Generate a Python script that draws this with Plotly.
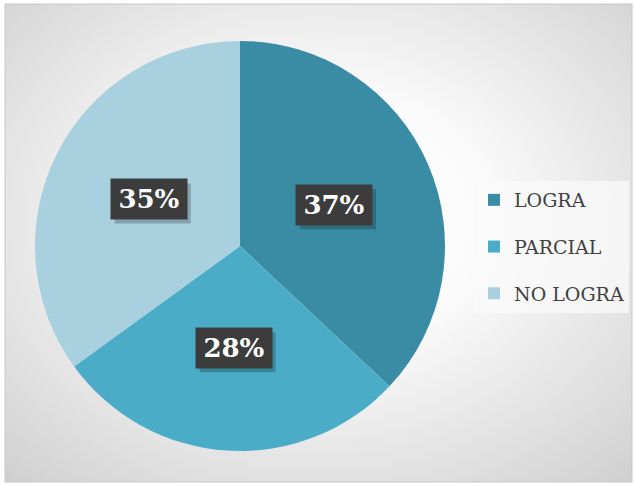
import math, base64
import plotly.graph_objects as go

categories = ["LOGRA", "PARCIAL", "NO LOGRA"]
values = [37, 28, 35]
colors = ["#3a8ca4", "#4aacc6", "#a8d0df"]

W, H = 634, 486
cx_px, cy_px, R_px = 240, 246, 205
BW, BH = 76, 40

svg = ('<svg xmlns="http://www.w3.org/2000/svg" width="627" height="478">'
       '<defs><radialGradient id="g" cx="50%" cy="45%" r="75%">'
       '<stop offset="0" stop-color="#ffffff"/><stop offset="0.35" stop-color="#fbfbfb"/>'
       '<stop offset="1" stop-color="#cfcfcf"/></radialGradient></defs>'
       '<rect width="627" height="478" fill="url(#g)"/></svg>')
bg_uri = "data:image/svg+xml;base64," + base64.b64encode(svg.encode()).decode()

fig = go.Figure()
fig.add_trace(go.Pie(
    labels=categories, values=values, sort=False, direction="clockwise", rotation=0,
    marker=dict(colors=colors, line=dict(width=0)), textinfo="none", hoverinfo="label+percent",
    showlegend=False,
    domain=dict(x=[(cx_px - R_px) / W, (cx_px + R_px) / W],
                y=[1 - (cy_px + R_px) / H, 1 - (cy_px - R_px) / H]),
))

# legend proxies
for c, col in zip(categories, colors):
    fig.add_trace(go.Scatter(x=[None], y=[None], mode="markers", name=c,
                             marker=dict(symbol="square", size=13, color=col),
                             legendgroup=c, showlegend=True))

# percentage labels
total = sum(values)
cum = 0
annotations, shapes = [], []
for v in values:
    mid = (cum + v / 2) / total * 2 * math.pi
    cum += v
    px = cx_px + 0.5 * R_px * math.sin(mid)
    py = cy_px - 0.5 * R_px * math.cos(mid)
    txt = f"<b>{round(v / total * 100)}%</b>"
    shapes.append(dict(type="rect", xref="paper", yref="paper", layer="above",
                       x0=(px - BW / 2 + 4) / W, x1=(px + BW / 2 + 4) / W,
                       y0=1 - (py + BH / 2 + 4) / H, y1=1 - (py - BH / 2 + 4) / H,
                       fillcolor="rgba(0,0,0,0.22)", line=dict(width=0)))
    annotations.append(dict(x=px / W, y=1 - py / H, xref="paper", yref="paper",
                            xanchor="center", yanchor="middle",
                            text=txt, showarrow=False, bgcolor="#3c3c3c",
                            width=BW, height=BH, borderpad=0,
                            font=dict(family="DejaVu Serif", size=26, color="white")))

shapes.append(dict(type="rect", xref="paper", yref="paper", x0=5 / W, x1=632 / W,
                   y0=1 - 482 / H, y1=1 - 4 / H, line=dict(color="#c8c8c8", width=1)))

fig.update_layout(
    width=W, height=H, margin=dict(l=0, r=0, t=0, b=0),
    paper_bgcolor="white", plot_bgcolor="rgba(0,0,0,0)",
    xaxis=dict(visible=False), yaxis=dict(visible=False),
    images=[dict(source=bg_uri, xref="paper", yref="paper", x=5 / W, y=1 - 4 / H,
                 sizex=627 / W, sizey=478 / H, xanchor="left", yanchor="top",
                 sizing="stretch", layer="below")],
    shapes=shapes,
    annotations=annotations,
    legend=dict(x=474 / W, y=1 - 181 / H, xanchor="left", yanchor="top",
                bgcolor="rgba(250,250,250,0.75)", borderwidth=0,
                font=dict(family="DejaVu Serif", size=19, color="#404040"),
                tracegroupgap=19, itemsizing="constant"),
    font=dict(family="DejaVu Serif"),
)

fig.write_html("out.html", config={"displayModeBar": False},
               post_script="document.body.style.margin='0';window.dispatchEvent(new Event('resize'));")
